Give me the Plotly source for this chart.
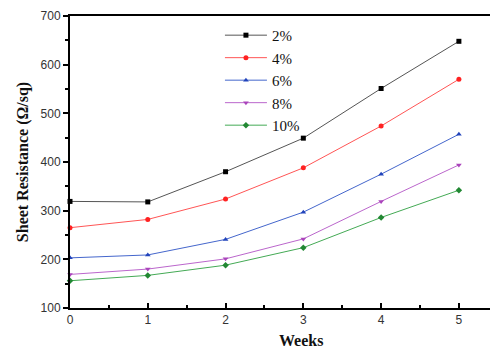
import plotly.graph_objects as go

weeks = [0, 1, 2, 3, 4, 5]
s2 = [319, 318, 380, 449, 551, 648]
s4 = [265, 282, 324, 388, 474, 570]
s6 = [203, 209, 241, 297, 375, 457]
s8 = [169, 180, 201, 242, 319, 394]
s10 = [156, 167, 188, 224, 286, 342]

series = [
    ("2%", s2, "#555555", "#000000", "square"),
    ("4%", s4, "#ff5555", "#ff2222", "circle"),
    ("6%", s6, "#4466cc", "#2244bb", "triangle-up"),
    ("8%", s8, "#bb66cc", "#aa44bb", "triangle-down"),
    ("10%", s10, "#44aa55", "#228833", "diamond"),
]

fig = go.Figure()
for name, ys, lc, mc, sym in series:
    fig.add_trace(go.Scatter(
        x=weeks, y=ys, name=name, mode="lines+markers",
        line=dict(color=lc, width=1),
        marker=dict(symbol=sym, size=5, color=mc),
        cliponaxis=False,
    ))

fig.update_layout(
    width=490, height=349,
    margin=dict(l=70, r=0, t=16, b=41),
    paper_bgcolor="white", plot_bgcolor="white",
    showlegend=True,
    legend=dict(
        x=0.357, y=0.99, xanchor="left", yanchor="top",
        bgcolor="rgba(0,0,0,0)",
        font=dict(family="Liberation Serif", size=15, color="#111111"),
        itemwidth=42, tracegroupgap=0,
    ),
    xaxis=dict(
        range=[0, 5.4], tickvals=[0, 1, 2, 3, 4, 5],
        showgrid=False, zeroline=False,
        showline=True, linecolor="black", linewidth=2, mirror=True,
        ticks="inside", ticklen=5, tickwidth=1.5, tickcolor="black",
        minor=dict(tickvals=[0.5, 1.5, 2.5, 3.5, 4.5], ticks="inside", ticklen=3, tickcolor="black"),
        tickfont=dict(family="Liberation Sans", size=12, color="#333333"),
    ),
    yaxis=dict(
        range=[100, 700], tickvals=[100, 200, 300, 400, 500, 600, 700],
        showgrid=False, zeroline=False,
        showline=True, linecolor="black", linewidth=2, mirror=False,
        ticks="outside", ticklen=5, tickwidth=1.5, tickcolor="black",
        minor=dict(tickvals=[150, 250, 350, 450, 550, 650], ticks="outside", ticklen=3, tickcolor="black"),
        tickfont=dict(family="Liberation Sans", size=12, color="#333333"),
        title=dict(text="<b>Sheet Resistance (Ω/sq)</b>", font=dict(family="Liberation Serif", size=16, color="#111111"), standoff=8),
    ),
    annotations=[dict(
        text="<b>Weeks</b>", xref="x", yref="paper", x=2.97, y=-0.11,
        xanchor="center", yanchor="middle", showarrow=False,
        font=dict(family="Liberation Serif", size=16, color="#111111"),
    )],
)

fig.write_html("out.html")
